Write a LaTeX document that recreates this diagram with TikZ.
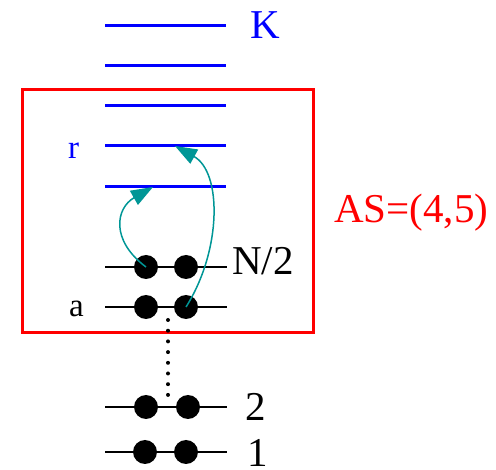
\documentclass[tikz,border=0pt]{standalone}
\usepackage{fontspec}
\setmainfont{Liberation Serif}
\usetikzlibrary{arrows.meta}
\definecolor{tealarrow}{RGB}{0,150,150}
\tikzset{
  bluelevel/.style={draw=blue, line width=3pt},
  blacklevel/.style={draw=black, line width=2.8pt},
  electron/.style={circle, fill=black, inner sep=0pt, minimum size=24pt},
  bigtxt/.style={inner sep=0pt, anchor=base west, font=\fontsize{41}{41}\selectfont},
  smalltxt/.style={inner sep=0pt, anchor=base west, font=\fontsize{33}{33}\selectfont},
  excite/.style={draw=tealarrow, line width=1.5pt, -{Triangle[length=22pt,width=16pt]}},
  asbox/.style={draw=red, line width=2.6pt}
}
\begin{document}
\begin{tikzpicture}[x=1pt,y=-1pt]
\useasboundingbox (0,0) rectangle (496,470);
% red active space box
\node[asbox, inner sep=0pt, minimum width=291pt, minimum height=243pt, anchor=north west] (box) at (21,88) {};
% blue virtual levels
\foreach \i/\y in {1/26,2/66,3/106,4/146,5/187}{
  \coordinate (bl\i w) at (105,\y);
  \coordinate (bl\i e) at (226,\y);
  \draw[bluelevel] (bl\i w) -- (bl\i e);
}
% black occupied levels
\foreach \n/\y in {half/267,a/307,two/407,one/452}{
  \coordinate (\n w) at (105,\y);
  \coordinate (\n e) at (227,\y);
  \draw[blacklevel] (\n w) -- (\n e);
}
% electrons
\node[electron] (ehalfL) at (146,267) {};
\node[electron] (ehalfR) at (186,267) {};
\node[electron] (eaL) at (146,307) {};
\node[electron] (eaR) at (186,307) {};
\node[electron] (etwoL) at (146,407) {};
\node[electron] (etwoR) at (188,407) {};
\node[electron] (eoneL) at (145,452) {};
\node[electron] (eoneR) at (186,452) {};
% dotted gap
\coordinate (dtop) at (168,320);
\coordinate (dbot) at (168,395);
\draw[line width=4pt, line cap=round, dash pattern=on 0pt off 10.7pt] (dtop) -- (dbot);
% excitation arrows
\coordinate (t1) at (153,187);
\coordinate (t2) at (175,146);
\draw[excite] (ehalfL.center) .. controls (110,240) and (116,208) .. (t1);
\draw[excite] (eaR.center) .. controls (222,250) and (222,172) .. (t2);
% labels
\node[bigtxt, text=blue] (K) at (250,39) {K};
\node[smalltxt, text=blue] (r) at (68,159) {r};
\node[smalltxt] (a) at (69,317) {a};
\node[bigtxt] (N2) at (232,275) {N/2};
\node[bigtxt] (two) at (245,421) {2};
\node[bigtxt] (one) at (247,467) {1};
\node[bigtxt, text=red] (AS) at (334,223) {AS=(4,5)};
\end{tikzpicture}
\end{document}
